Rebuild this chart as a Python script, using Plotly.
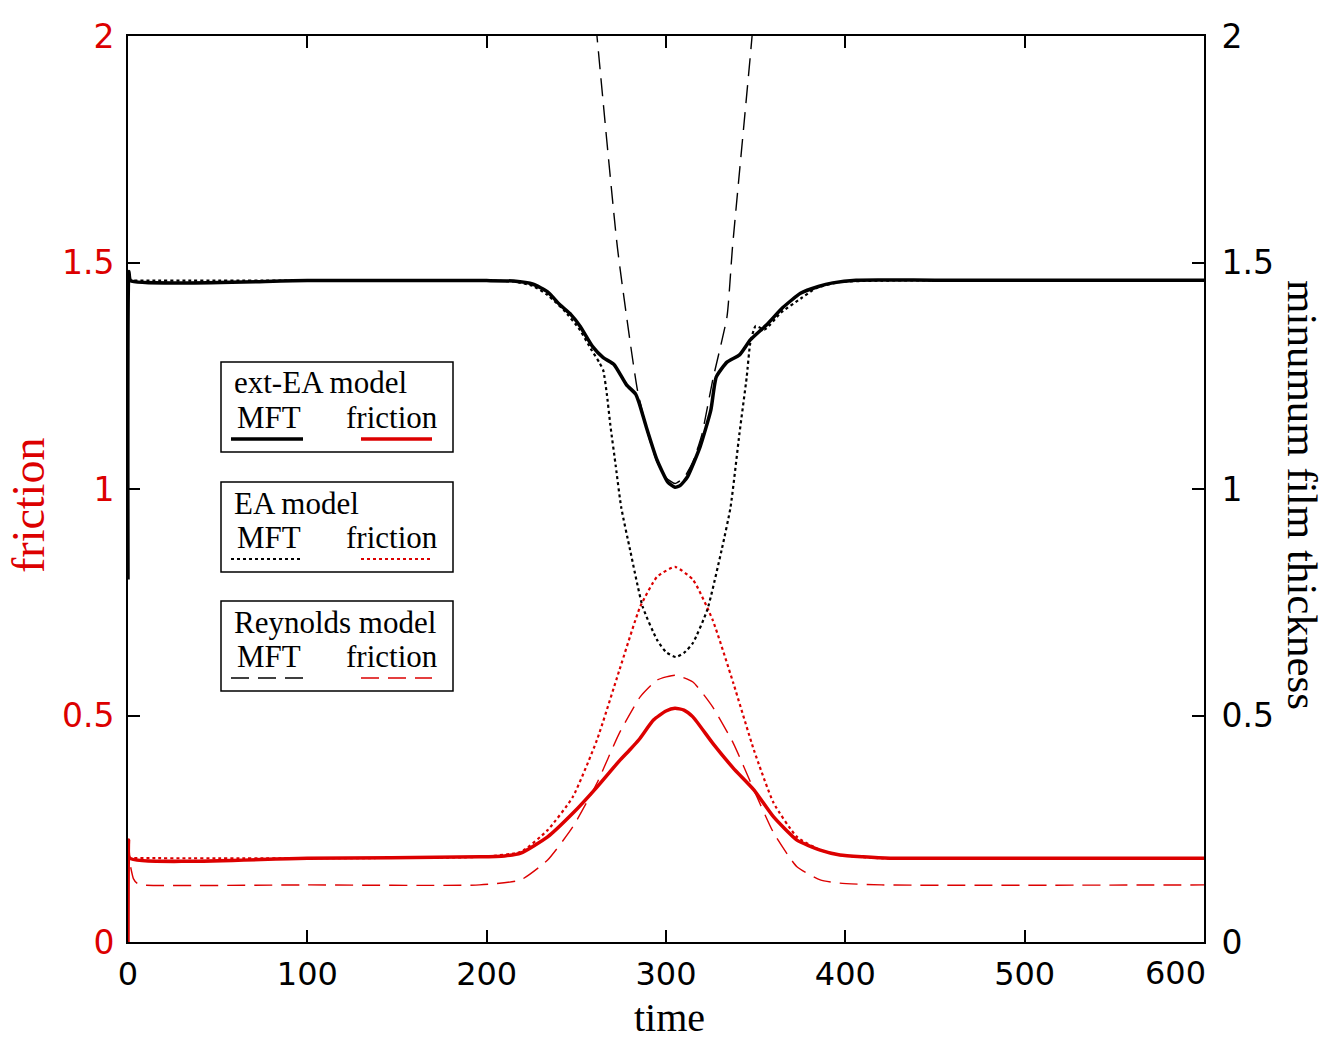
import plotly.graph_objects as go

RED = "rgb(220,0,0)"

# ---------------- data ----------------
# ext-EA model, minimum film thickness (solid black)
t_extea_mft = [0, 0.5, 1.5, 100, 200, 215, 226, 234, 241, 247, 252, 259, 265, 271, 278, 283, 285, 289, 295, 301, 305, 308, 312, 319, 325, 328, 334, 341, 347, 356, 365, 375, 385, 393, 406, 450, 600]
h_extea_mft = [0.80, 1.48, 1.46, 1.46, 1.46, 1.459, 1.452, 1.435, 1.406, 1.385, 1.36, 1.315, 1.29, 1.275, 1.23, 1.21, 1.19, 1.137, 1.064, 1.015, 1.004, 1.008, 1.027, 1.093, 1.174, 1.247, 1.28, 1.296, 1.329, 1.362, 1.40, 1.432, 1.447, 1.455, 1.461, 1.461, 1.461]

# EA model, minimum film thickness (dotted black)
t_ea_mft = [0, 100, 200, 215, 226, 234, 243, 252, 258, 263, 265, 267, 269, 272, 275, 280, 287, 295, 300, 305.5, 310, 315, 323, 331, 336, 341, 345, 347, 350, 355, 364, 375, 384, 397, 420, 600]
h_ea_mft = [1.46, 1.46, 1.46, 1.458, 1.448, 1.428, 1.395, 1.351, 1.31, 1.278, 1.262, 1.21, 1.14, 1.05, 0.96, 0.865, 0.74, 0.667, 0.64, 0.629, 0.638, 0.66, 0.733, 0.865, 0.96, 1.124, 1.247, 1.322, 1.36, 1.352, 1.389, 1.42, 1.444, 1.457, 1.46, 1.46]

# Reynolds model, minimum film thickness (dashed black)
t_rey_mft = [250, 261.5, 273, 284, 290, 295, 300, 305, 310, 315, 320, 326, 334, 337, 348, 360]
h_rey_mft = [2.5, 2.0, 1.53, 1.22, 1.12, 1.06, 1.025, 1.012, 1.025, 1.06, 1.12, 1.24, 1.38, 1.53, 2.0, 2.6]

# ext-EA model, friction (solid red)
t_extea_fr = [0, 0.3, 1, 100, 196, 210, 219, 234, 248, 261.5, 274, 280, 285, 293, 300, 305, 310, 315, 326, 337.5, 349, 360, 373, 386, 397, 410, 425, 600]
f_extea_fr = [0, 0.225, 0.185, 0.185, 0.188, 0.19, 0.196, 0.232, 0.284, 0.342, 0.40, 0.425, 0.447, 0.49, 0.51, 0.516, 0.512, 0.497, 0.439, 0.384, 0.336, 0.276, 0.225, 0.203, 0.192, 0.188, 0.185, 0.185]

# EA model, friction (dotted red)
t_ea_fr = [0, 100, 196, 219, 234, 248, 261.5, 274, 285.6, 295, 305, 315, 326, 337.5, 349, 360, 373, 386, 397, 420, 600]
f_ea_fr = [0.185, 0.185, 0.188, 0.199, 0.247, 0.32, 0.446, 0.6, 0.74, 0.806, 0.828, 0.8, 0.711, 0.572, 0.424, 0.307, 0.232, 0.203, 0.192, 0.185, 0.185]

# Reynolds model, friction (dashed red)
t_rey_fr = [1.5, 3, 5, 8, 100, 196, 219, 234, 248, 261.5, 274, 285.6, 295, 305, 315, 326, 337.5, 349, 360, 373, 386, 397, 420, 600]
f_rey_fr = [0.165, 0.14, 0.13, 0.126, 0.126, 0.126, 0.137, 0.181, 0.254, 0.351, 0.461, 0.541, 0.578, 0.589, 0.574, 0.519, 0.439, 0.336, 0.241, 0.166, 0.137, 0.13, 0.126, 0.126]

x_ticks = [0, 100, 200, 300, 400, 500, 600]
x_ticklabels = ["0", "100", "200", "300", "400", "500", "600"]
y_ticks = [0, 0.5, 1, 1.5, 2]
y_ticklabels = ["0", "0.5", "1", "1.5", "2"]

legend_titles = ["ext-EA model", "EA model", "Reynolds model"]
legend_dashes = ["solid", "dot", "18px,9px"]

# ---------------- figure ----------------
W, H = 1329, 1041
L, R, T, B = 128, 1204, 36, 942  # plot area in pixels


def px(x):
    return (x - L) / (R - L)


def py(y):
    return (B - y) / (B - T)


fig = go.Figure()
spline = dict(shape="spline", smoothing=0.5)

fig.add_trace(go.Scatter(x=t_ea_mft, y=h_ea_mft, yaxis="y2", mode="lines",
                         line=dict(color="black", width=2.2, dash="dot", **spline)))
fig.add_trace(go.Scatter(x=t_rey_mft, y=h_rey_mft, yaxis="y2", mode="lines",
                         line=dict(color="black", width=1.4, dash="18px,9px", **spline)))
fig.add_trace(go.Scatter(x=t_extea_mft, y=h_extea_mft, yaxis="y2", mode="lines",
                         line=dict(color="black", width=3.5, **spline)))
fig.add_trace(go.Scatter(x=t_ea_fr, y=f_ea_fr, mode="lines",
                         line=dict(color=RED, width=2.2, dash="dot", **spline)))
fig.add_trace(go.Scatter(x=t_rey_fr, y=f_rey_fr, mode="lines",
                         line=dict(color=RED, width=1.4, dash="18px,9px", **spline)))
fig.add_trace(go.Scatter(x=t_extea_fr, y=f_extea_fr, mode="lines",
                         line=dict(color=RED, width=3.5, **spline)))

xfont = dict(family="DejaVu Sans", size=32, color="black")

fig.update_layout(
    width=W, height=H,
    margin=dict(l=L, r=W - R, t=T, b=H - B, pad=0),
    paper_bgcolor="white", plot_bgcolor="white",
    showlegend=False,
    xaxis=dict(range=[0, 600], tickvals=x_ticks,
               ticktext=x_ticklabels[:-1] + [""], ticks="inside",
               ticklen=12, tickwidth=1.5, tickcolor="black", showline=True,
               linecolor="black", linewidth=2, mirror="ticks", showgrid=False,
               zeroline=False, tickfont=xfont, ticklabelstandoff=3),
    yaxis=dict(range=[0, 2], tickvals=y_ticks, ticktext=y_ticklabels, ticks="inside",
               ticklen=12, tickwidth=1.5, tickcolor="black", showline=True,
               linecolor="black", linewidth=2, showgrid=False, zeroline=False,
               tickfont=dict(family="DejaVu Sans", size=33, color=RED),
               ticklabelstandoff=5),
    yaxis2=dict(range=[0, 2], tickvals=y_ticks, ticktext=y_ticklabels, ticks="inside",
                ticklen=12, tickwidth=1.5, tickcolor="black", showline=True,
                linecolor="black", linewidth=2, showgrid=False, zeroline=False,
                overlaying="y", side="right",
                tickfont=dict(family="DejaVu Sans", size=33, color="black"),
                ticklabelstandoff=9),
)

# last x tick label: sits to the left of its tick in the reference
fig.add_annotation(text=x_ticklabels[-1], xref="x", x=x_ticks[-1], yref="paper", y=py(973),
                   showarrow=False, font=xfont, xanchor="right", yanchor="middle", xshift=4)

# axis titles
fig.add_annotation(text="time", xref="paper", yref="paper", x=px(669), y=py(1017),
                   showarrow=False, font=dict(family="Liberation Serif", size=40, color="black"),
                   xanchor="center", yanchor="middle")
fig.add_annotation(text="friction", xref="paper", yref="paper", x=px(28), y=py(506),
                   showarrow=False, textangle=-90,
                   font=dict(family="Liberation Serif", size=46, color=RED),
                   xanchor="center", yanchor="middle")
fig.add_annotation(text="minumum film thickness", xref="paper", yref="paper",
                   x=px(1303), y=py(495), showarrow=False, textangle=90,
                   font=dict(family="Liberation Serif", size=43, color="black"),
                   xanchor="center", yanchor="middle")

# legend boxes
box_tops = [362, 482, 601]
lfont = dict(family="Liberation Serif", size=31, color="black")
for top, title, dash in zip(box_tops, legend_titles, legend_dashes):
    fig.add_shape(type="rect", xref="paper", yref="paper",
                  x0=px(221), x1=px(453), y0=py(top), y1=py(top + 90),
                  line=dict(color="black", width=1.5), fillcolor="white", layer="above")
    fig.add_annotation(text=title, xref="paper", yref="paper", x=px(232), y=py(top + 21),
                       showarrow=False, font=lfont, xanchor="left", yanchor="middle")
    fig.add_annotation(text="MFT", xref="paper", yref="paper", x=px(235), y=py(top + 55),
                       showarrow=False, font=lfont, xanchor="left", yanchor="middle")
    fig.add_annotation(text="friction", xref="paper", yref="paper", x=px(344), y=py(top + 55),
                       showarrow=False, font=lfont, xanchor="left", yanchor="middle")
    w = 3.5 if dash == "solid" else (2.2 if dash == "dot" else 1.4)
    fig.add_shape(type="line", xref="paper", yref="paper", x0=px(231), x1=px(303),
                  y0=py(top + 77), y1=py(top + 77), line=dict(color="black", width=w, dash=dash),
                  layer="above")
    fig.add_shape(type="line", xref="paper", yref="paper", x0=px(361), x1=px(432),
                  y0=py(top + 77), y1=py(top + 77), line=dict(color=RED, width=w, dash=dash),
                  layer="above")

fig.write_html("out.html")
